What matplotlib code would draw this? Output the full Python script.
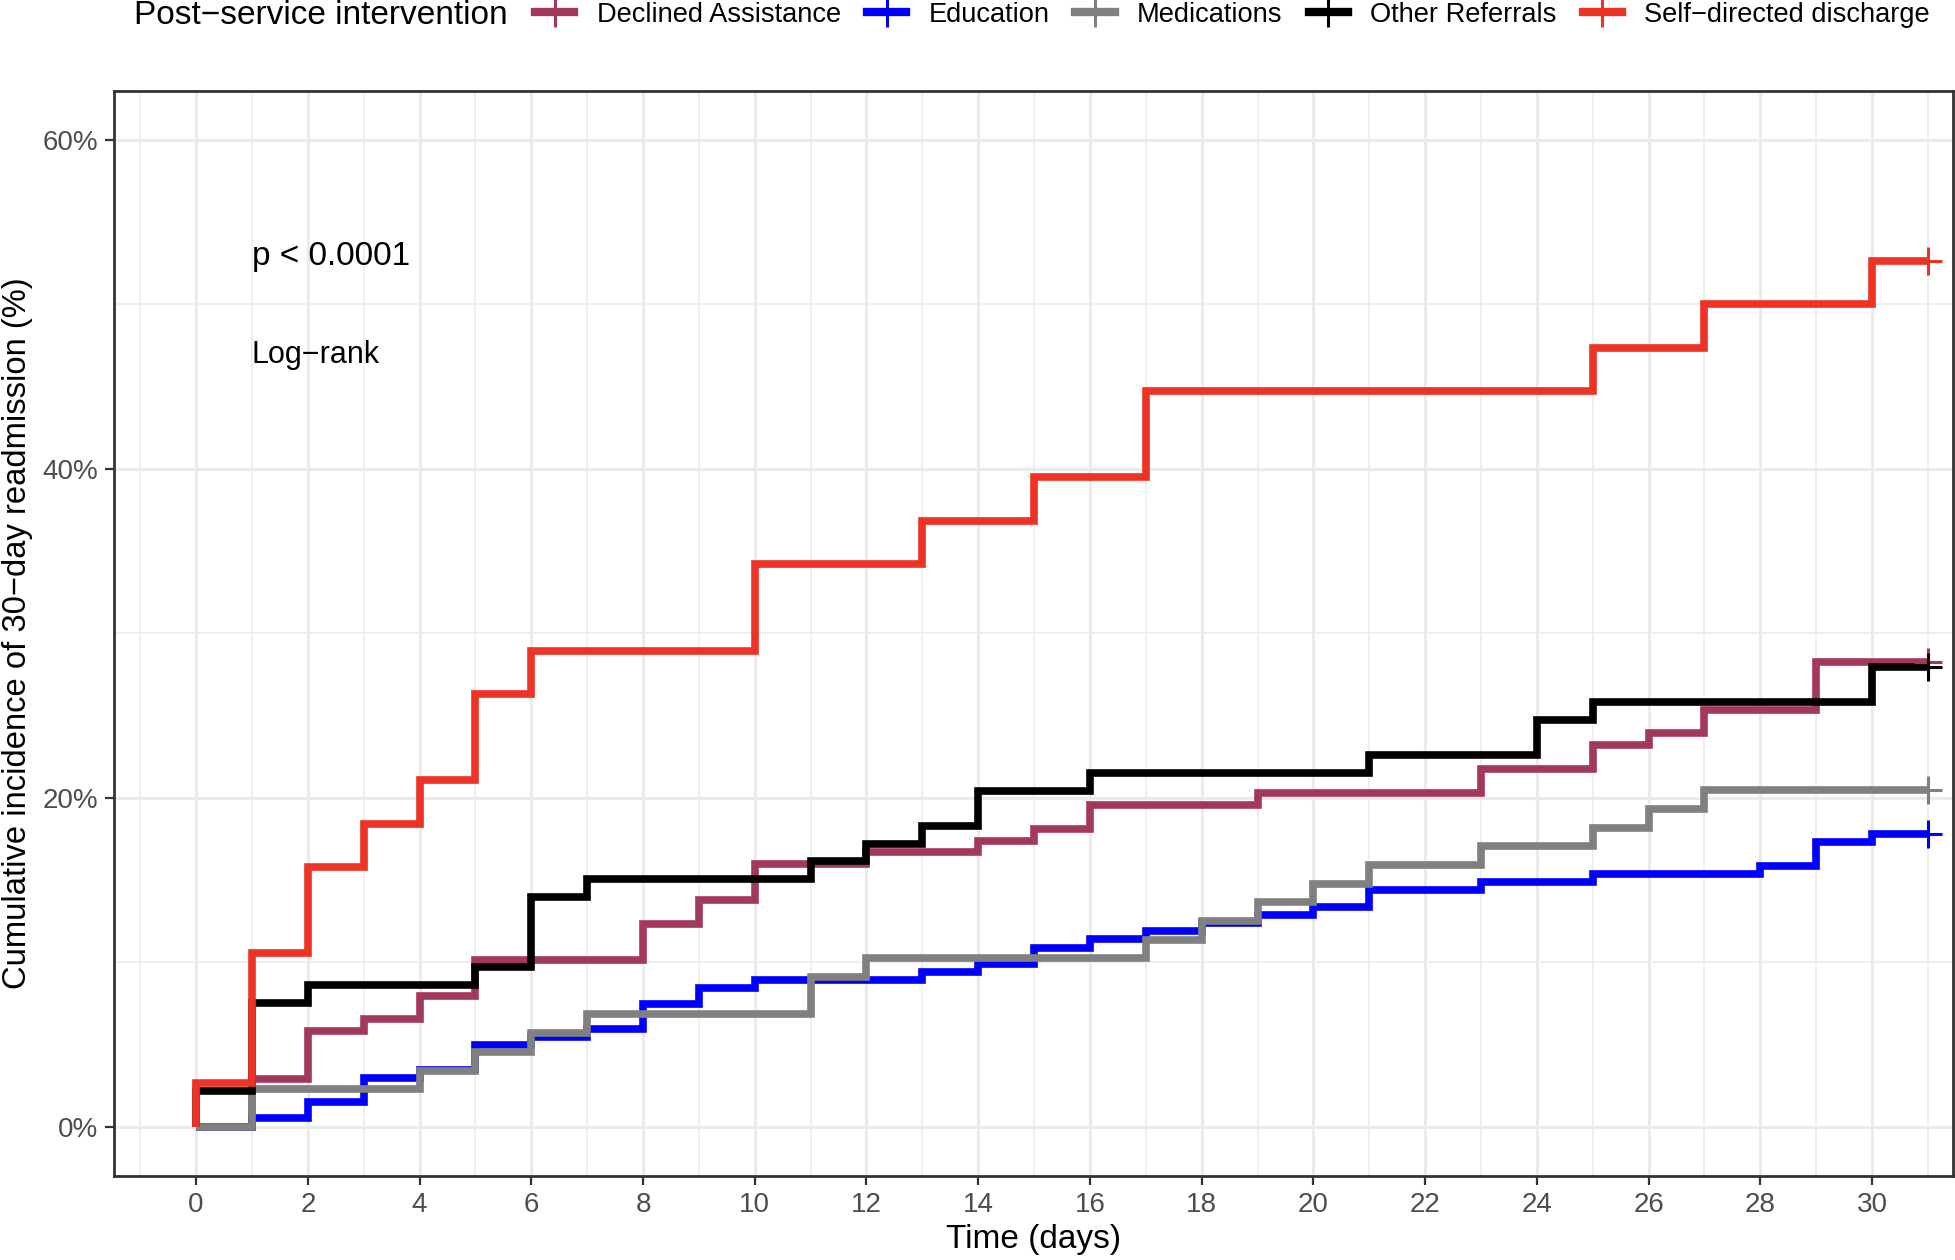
"""Cumulative incidence of 30-day readmission by post-service intervention.

Step curves (Kaplan-Meier style, 1 - S(t)) read off the reference figure,
censor marks at day 31, log-rank annotation in the upper left.
"""
import matplotlib
matplotlib.use("Agg")
import matplotlib.pyplot as plt
from matplotlib.lines import Line2D
from matplotlib.ticker import FuncFormatter, MultipleLocator

plt.rcParams["font.family"] = ["Liberation Sans", "DejaVu Sans"]

GROUPS = ["Declined Assistance", "Education", "Medications",
          "Other Referrals", "Self\u2212directed discharge"]
COLORS = ["#A3385E", "#0000FF", "#808080", "#000000", "#EE3224"]

# step times (days) and cumulative incidence (%) after each step
declined_t = [0, 1, 2, 3, 4, 5, 8, 9, 10, 12, 14, 15, 16, 19, 23, 25, 26, 27, 29, 31]
declined_y = [0, 2.90, 5.80, 6.52, 7.97, 10.14, 12.32, 13.77, 15.94, 16.67, 17.39,
              18.12, 19.57, 20.29, 21.74, 23.19, 23.91, 25.36, 28.26, 28.26]

education_t = [0, 1, 2, 3, 4, 5, 6, 7, 8, 9, 10, 13, 14, 15, 16, 17, 18, 19, 20,
               21, 23, 25, 28, 29, 30, 31]
education_y = [0, 0.50, 1.49, 2.97, 3.47, 4.95, 5.45, 5.94, 7.43, 8.42, 8.91, 9.41,
               9.90, 10.89, 11.39, 11.88, 12.38, 12.87, 13.37, 14.36, 14.85, 15.35,
               15.84, 17.33, 17.82, 17.82]

medications_t = [0, 1, 4, 5, 6, 7, 11, 12, 17, 18, 19, 20, 21, 23, 25, 26, 27, 31]
medications_y = [0, 2.27, 3.41, 4.55, 5.68, 6.82, 9.09, 10.23, 11.36, 12.50, 13.64,
                 14.77, 15.91, 17.05, 18.18, 19.32, 20.45, 20.45]

other_t = [0, 0, 1, 2, 5, 6, 7, 11, 12, 13, 14, 16, 21, 24, 25, 30, 31]
other_y = [0, 2.15, 7.53, 8.60, 9.68, 13.98, 15.05, 16.13, 17.20, 18.28, 20.43,
           21.51, 22.58, 24.73, 25.81, 27.96, 27.96]

selfdir_t = [0, 0, 1, 2, 3, 4, 5, 6, 10, 13, 15, 17, 25, 27, 30, 31]
selfdir_y = [0, 2.63, 10.53, 15.79, 18.42, 21.05, 26.32, 28.95, 34.21, 36.84,
             39.47, 44.74, 47.37, 50.00, 52.63, 52.63]

CURVES = [(declined_t, declined_y), (education_t, education_y),
          (medications_t, medications_y), (other_t, other_y),
          (selfdir_t, selfdir_y)]
CENSOR_T = 31

fig = plt.figure(figsize=(19.56, 12.6), dpi=100)
ax = fig.add_axes([114 / 1956, 1 - 1176 / 1260, (1953 - 114) / 1956, (1176 - 90.5) / 1260])

for (t, y), col in zip(CURVES, COLORS):
    ax.step(t, y, where="post", color=col, lw=5.5, solid_capstyle="butt",
            solid_joinstyle="miter", zorder=3)
    ax.plot([CENSOR_T], [y[-1]], marker="+", color=col, ms=20, mew=2.2,
            ls="none", zorder=4)

ax.text(1, 52.9, "p < 0.0001", fontsize=24, va="center", ha="left")
ax.text(1, 46.9, "Log\u2212rank", fontsize=22, va="center", ha="left")

ax.set_xlim(-1.47, 31.45)
ax.set_ylim(-3, 63)
ax.xaxis.set_major_locator(MultipleLocator(2))
ax.xaxis.set_minor_locator(MultipleLocator(1))
ax.set_xticks(range(0, 31, 2))
ax.set_yticks([0, 20, 40, 60])
ax.set_yticks([10, 30, 50], minor=True)
ax.yaxis.set_major_formatter(FuncFormatter(lambda v, _: f"{v:.0f}%"))

ax.grid(which="major", color="#EBEBEB", lw=2.2)
ax.grid(which="minor", color="#EBEBEB", lw=1.1)
ax.set_axisbelow(True)
ax.tick_params(which="major", length=6.5, width=1.6, color="#333333",
               labelsize=20, labelcolor="#4D4D4D", pad=5)
ax.tick_params(which="minor", length=0)
for s in ax.spines.values():
    s.set_color("#333333")
    s.set_linewidth(2)

ax.set_xlabel("Time (days)", fontsize=24, labelpad=4)
ax.set_ylabel("Cumulative incidence of 30\u2212day readmission (%)", fontsize=23.6,
              labelpad=7)

# legend across the top, title on the left
fig.text(134 / 1956, 1 - 15 / 1260, "Post\u2212service intervention", fontsize=24,
         va="center", ha="left")
handles = [Line2D([], [], color=c, lw=6, marker="|", ms=22, mew=2.2) for c in COLORS]
fig.legend(handles, GROUPS, loc="center left",
           bbox_to_anchor=(535 / 1956, 1 - 15 / 1260), ncol=5, frameon=False,
           fontsize=19.6, handlelength=1.45, handletextpad=0.82, columnspacing=0.95,
           borderpad=0, borderaxespad=0, numpoints=1)

fig.savefig("out.png", dpi=100)
plt.close(fig)
